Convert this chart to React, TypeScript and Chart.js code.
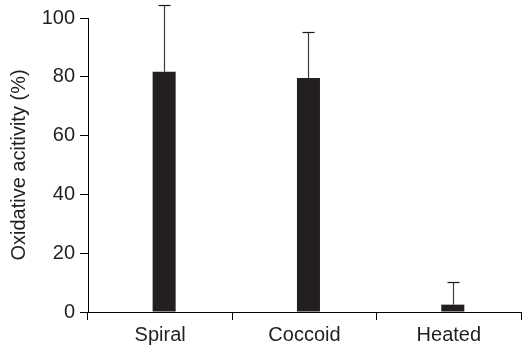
import React, { useEffect, useRef } from "react";
import { Chart, registerables } from "chart.js";

Chart.register(...registerables);

const categories = ["Spiral", "Coccoid", "Heated"];
const meanValues = [81.7, 79.6, 2.5];
const errorUpper = [104.4, 95.2, 10.2];
const yTicks = [0, 20, 40, 60, 80, 100];
const yTitle = "Oxidative acitivity (%)";

const errorBarPlugin = {
  id: "errorBars",
  afterDatasetsDraw(chart: any) {
    const ctx = chart.ctx;
    const meta = chart.getDatasetMeta(1);
    const yScale = chart.scales.y;
    ctx.save();
    meta.data.forEach((bar: any, i: number) => {
      const x = Math.round(bar.x) + 0.5;
      const yBar = yScale.getPixelForValue(meanValues[i]);
      const yTop = Math.round(yScale.getPixelForValue(errorUpper[i])) + 0.5;
      ctx.strokeStyle = "#3c3c3c";
      ctx.lineWidth = 1.2;
      ctx.beginPath();
      ctx.moveTo(x, yBar);
      ctx.lineTo(x, yTop);
      ctx.stroke();
      ctx.strokeStyle = "#1a1a1a";
      ctx.lineWidth = 1.2;
      ctx.beginPath();
      ctx.moveTo(x - 6, yTop);
      ctx.lineTo(x + 6, yTop);
      ctx.stroke();
    });
    ctx.restore();
  },
};

export default function App() {
  const ref = useRef<HTMLCanvasElement>(null);
  useEffect(() => {
    document.body.style.margin = "0";
    const font = "'Liberation Sans', Arial, sans-serif";
    const chart = new Chart(ref.current!, {
      type: "bar",
      data: {
        labels: categories,
        datasets: [
          {
            // empty spacer slot so the bars sit slightly right of centre
            data: categories.map(() => null),
            backgroundColor: "rgba(0,0,0,0)",
            barPercentage: 2.9,
            categoryPercentage: 0.11,
          },
          {
            data: meanValues,
            backgroundColor: "#231f20",
            borderColor: "#231f20",
            borderWidth: 0,
            barPercentage: 2.9,
            categoryPercentage: 0.11,
          },
        ],
      },
      options: {
        responsive: false,
        animation: false,
        devicePixelRatio: 1,
        layout: { padding: { top: 18, right: 1, left: 0, bottom: 0 } },
        plugins: { legend: { display: false }, tooltip: { enabled: false } },
        scales: {
          x: {
            grid: {
              offset: true,
              drawOnChartArea: false,
              drawTicks: true,
              tickLength: 8,
              color: "#000",
              lineWidth: 1,
            },
            border: { display: true, color: "#000", width: 1 },
            ticks: {
              color: "#231f20",
              font: { family: font, size: 20 },
              padding: 3,
              maxRotation: 0,
            },
            afterFit(scale: any) {
              scale.height = 37;
            },
          },
          y: {
            min: 0,
            max: 100,
            afterBuildTicks(scale: any) {
              scale.ticks = yTicks.map((v) => ({ value: v }));
            },
            grid: {
              drawOnChartArea: false,
              drawTicks: true,
              tickLength: 8,
              color: "#000",
              lineWidth: 1,
            },
            border: { display: true, color: "#000", width: 1 },
            ticks: {
              color: "#231f20",
              font: { family: font, size: 20 },
              padding: 5,
            },
            title: {
              display: true,
              text: yTitle,
              color: "#231f20",
              font: { family: font, size: 20 },
              padding: { top: 7, bottom: 0 },
            },
            afterFit(scale: any) {
              scale.width = 88;
            },
          },
        },
      },
      plugins: [errorBarPlugin],
    });
    return () => chart.destroy();
  }, []);
  return <canvas ref={ref} width={522} height={349} style={{ display: "block" }} />;
}
